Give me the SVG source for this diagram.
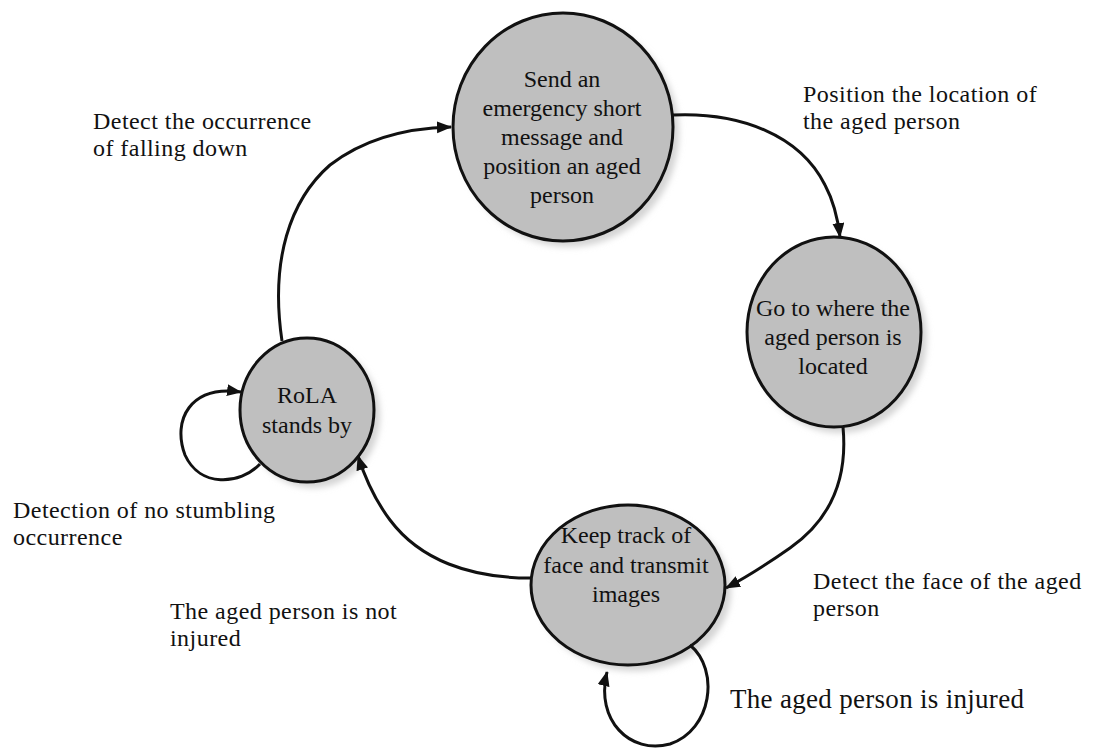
<svg xmlns="http://www.w3.org/2000/svg" width="1094" height="749" viewBox="0 0 1094 749">
<defs>
<marker id="ah" markerUnits="userSpaceOnUse" markerWidth="16" markerHeight="14" refX="14" refY="6" orient="auto">
<path d="M0,0 L15,6 L0,12 z" fill="#111"/>
</marker>
<filter id="sh" x="-20%" y="-20%" width="140%" height="140%"><feGaussianBlur stdDeviation="3"/></filter>
<style>
.node{fill:#bfbfbf;stroke:#111;stroke-width:3}
.shadow{fill:#d4d4d4;filter:url(#sh)}
.nt{font-family:"Liberation Serif","Times New Roman",serif;font-size:24px;fill:#111;text-anchor:middle}
.lb{font-family:"Liberation Serif","Times New Roman",serif;font-size:24px;letter-spacing:0.45px;fill:#111}
.edge{fill:none;stroke:#111;stroke-width:3;marker-end:url(#ah)}
</style>
</defs>
<rect width="1094" height="749" fill="#fff"/>
<g id="n-send">
<ellipse class="shadow" cx="569" cy="133" rx="110" ry="114"/>
<ellipse class="node" cx="563" cy="127" rx="110" ry="114"/>
<text class="nt" x="562" y="87">Send an</text>
<text class="nt" x="562" y="116">emergency short</text>
<text class="nt" x="562" y="145">message and</text>
<text class="nt" x="562" y="174">position an aged</text>
<text class="nt" x="562" y="203">person</text>
</g>
<g id="n-goto">
<ellipse class="shadow" cx="840" cy="338" rx="87" ry="95"/>
<ellipse class="node" cx="834" cy="332" rx="87" ry="95"/>
<text class="nt" x="833" y="316">Go to where the</text>
<text class="nt" x="833" y="345">aged person is</text>
<text class="nt" x="833" y="374">located</text>
</g>
<g id="n-keep">
<ellipse class="shadow" cx="634" cy="591" rx="97" ry="80"/>
<ellipse class="node" cx="628" cy="585" rx="97" ry="80"/>
<text class="nt" x="626" y="543">Keep track of</text>
<text class="nt" x="626" y="573">face and transmit</text>
<text class="nt" x="626" y="602">images</text>
</g>
<g id="n-rola">
<ellipse class="shadow" cx="313" cy="416" rx="67" ry="72"/>
<ellipse class="node" cx="307" cy="410" rx="67" ry="72"/>
<text class="nt" x="307" y="403">RoLA</text>
<text class="nt" x="307" y="433">stands by</text>
</g>
<g id="connectors">
<path class="edge" d="M 282 341 C 270 260, 290 200, 330 165 C 365 138, 410 128, 451 127"/>
<path class="edge" d="M 673 115 C 740 112, 800 135, 825 185 C 833 200, 838 220, 840 237"/>
<path class="edge" d="M 843 427 C 848 480, 830 520, 790 548 C 770 562, 745 578, 726 588"/>
<path class="edge" d="M 530 578 C 470 578, 420 560, 390 520 C 375 500, 365 478, 358 456"/>
<path class="edge" d="M 260 464 C 240 485, 200 488, 185 455 C 172 420, 190 385, 241 392"/>
<path class="edge" d="M 690 645 C 720 670, 712 730, 670 744 C 630 755, 595 720, 607 672"/>
</g>
<g id="labels">
<text class="lb" x="93" y="129">Detect the occurrence</text>
<text class="lb" x="93" y="156">of falling down</text>
<text class="lb" x="803" y="102">Position the location of</text>
<text class="lb" x="803" y="129">the aged person</text>
<text class="lb" x="13" y="518">Detection of no stumbling</text>
<text class="lb" x="13" y="545">occurrence</text>
<text class="lb" x="170" y="619">The aged person is not</text>
<text class="lb" x="170" y="646">injured</text>
<text class="lb" x="813" y="589">Detect the face of the aged</text>
<text class="lb" x="813" y="616">person</text>
<text class="lb" x="730" y="708" style="font-size:27px;letter-spacing:0.3px">The aged person is injured</text>
</g>
</svg>
